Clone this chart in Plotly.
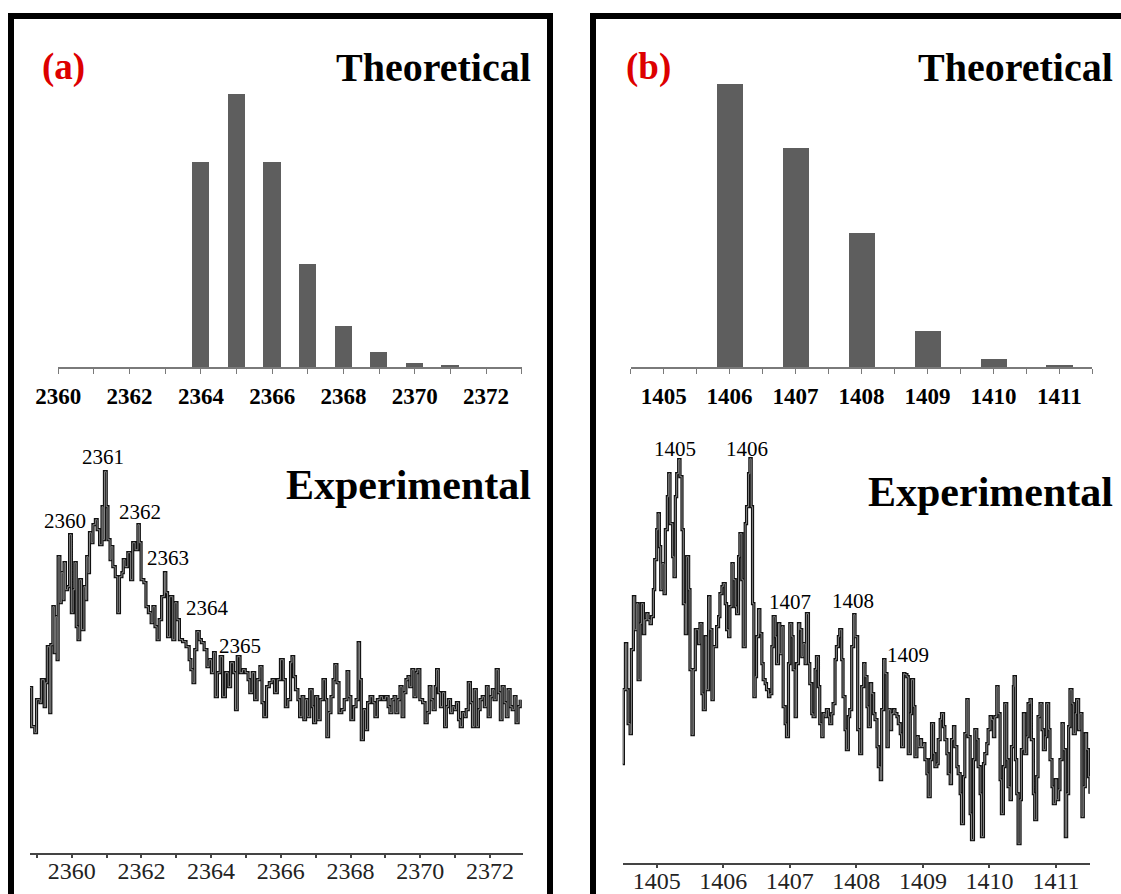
import plotly.graph_objects as go

# ---------------- data ----------------
# Theoretical isotope distributions (relative abundance, %)
theo_a_mz = [2364, 2365, 2366, 2367, 2368, 2369, 2370, 2371]
theo_a_int = [75.1, 100, 75.1, 37.6, 15.0, 5.5, 1.6, 0.6]

theo_b_mz = [1406, 1407, 1408, 1409, 1410, 1411]
theo_b_int = [100, 77.4, 47.5, 12.7, 2.9, 0.7]

# Experimental spectrum (a), m/z and intensity (a.u.)
exp_a_mz = [
    2358.80, 2358.85, 2358.94, 2358.99, 2359.09, 2359.13, 2359.21, 2359.25, 2359.30, 2359.37,
    2359.40, 2359.46, 2359.50, 2359.54, 2359.58, 2359.61, 2359.66, 2359.70, 2359.75, 2359.78,
    2359.82, 2359.88, 2359.94, 2359.99, 2360.04, 2360.09, 2360.13, 2360.18, 2360.23, 2360.28,
    2360.35, 2360.40, 2360.43, 2360.47, 2360.51, 2360.56, 2360.61, 2360.68, 2360.73, 2360.80,
    2360.87, 2360.90, 2360.94, 2360.99, 2361.04, 2361.10, 2361.13, 2361.18, 2361.25, 2361.32,
    2361.37, 2361.44, 2361.48, 2361.53, 2361.61, 2361.69, 2361.75, 2361.82, 2361.90, 2361.94,
    2361.99, 2362.07, 2362.13, 2362.20, 2362.28, 2362.33, 2362.39, 2362.45, 2362.51, 2362.58,
    2362.66, 2362.70, 2362.75, 2362.81, 2362.90, 2362.96, 2363.02, 2363.09, 2363.18, 2363.28,
    2363.37, 2363.42, 2363.48, 2363.53, 2363.59, 2363.66, 2363.72, 2363.80, 2363.88, 2363.94,
    2364.01, 2364.07, 2364.12, 2364.18, 2364.26, 2364.33, 2364.41, 2364.49, 2364.56, 2364.64,
    2364.70, 2364.75, 2364.83, 2364.90, 2364.98, 2365.06, 2365.11, 2365.18, 2365.25, 2365.32,
    2365.40, 2365.46, 2365.51, 2365.59, 2365.67, 2365.75, 2365.82, 2365.90, 2365.99,
    2366.07, 2366.13, 2366.20, 2366.28, 2366.32, 2366.37, 2366.42, 2366.49, 2366.54, 2366.61,
    2366.66, 2366.71, 2366.77, 2366.83, 2366.90, 2366.94, 2367.00, 2367.06, 2367.13, 2367.21,
    2367.28, 2367.32, 2367.37, 2367.44, 2367.50, 2367.55, 2367.61, 2367.67, 2367.75, 2367.82,
    2367.90, 2367.95, 2368.01, 2368.09, 2368.16, 2368.22, 2368.26, 2368.31, 2368.37, 2368.43,
    2368.49, 2368.56, 2368.64, 2368.70, 2368.77, 2368.85, 2368.92, 2369.00, 2369.08, 2369.13,
    2369.19, 2369.25, 2369.30, 2369.36, 2369.42, 2369.48, 2369.53, 2369.59, 2369.65, 2369.70,
    2369.76, 2369.82, 2369.88, 2369.93, 2369.99, 2370.07, 2370.14, 2370.20, 2370.26, 2370.31,
    2370.37, 2370.43, 2370.47, 2370.52, 2370.58, 2370.64, 2370.70, 2370.75, 2370.81, 2370.87,
    2370.92, 2370.98, 2371.04, 2371.10, 2371.15, 2371.21, 2371.27, 2371.32, 2371.38, 2371.44,
    2371.50, 2371.55, 2371.61, 2371.67, 2371.72, 2371.78, 2371.84, 2371.90, 2371.95, 2372.01,
    2372.07, 2372.12, 2372.18, 2372.24, 2372.30, 2372.35, 2372.41, 2372.47, 2372.52, 2372.58,
    2372.64, 2372.70, 2372.75, 2372.81, 2372.87,
]
exp_a_int = [
    165, 126, 120, 153, 150, 173, 146, 170, 206, 140,
    208, 246, 200, 236, 193, 296, 250, 280, 253, 290,
    263, 266, 318, 240, 263, 290, 226, 213, 273, 223,
    266, 253, 296, 280, 320, 310, 328, 333, 323, 308,
    346, 313, 381, 346, 313, 293, 306, 286, 276, 240,
    276, 280, 293, 286, 300, 273, 310, 303, 328, 310,
    273, 270, 246, 240, 230, 246, 226, 213, 233, 256,
    280, 260, 216, 256, 213, 250, 233, 213, 211, 206,
    193, 183, 170, 203, 221, 213, 210, 203, 186, 193,
    180, 200, 156, 180, 196, 156, 180, 166, 190, 180,
    143, 196, 180, 183, 180, 173, 160, 180, 153, 173,
    186, 150, 136, 166, 170, 173, 160, 173, 193,
    173, 146, 153, 190, 196, 176, 163, 153, 136, 156,
    133, 153, 136, 163, 146, 130, 156, 133, 153, 173,
    153, 116, 140, 156, 173, 188, 170, 140, 143, 153,
    181, 156, 133, 146, 153, 210, 173, 113, 143, 123,
    150, 156, 150, 136, 153, 156, 153, 156, 146, 140,
    153, 156, 140, 153, 166, 136, 160, 173, 176, 166,
    183, 156, 180, 183, 153, 150, 130, 140, 166, 153,
    143, 166, 183, 160, 146, 160, 126, 146, 153, 140,
    146, 143, 150, 133, 126, 140, 136, 143, 170, 150,
    126, 163, 126, 143, 153, 156, 146, 166, 136, 156,
    163, 153, 183, 160, 133, 166, 150, 136, 163, 146,
    143, 156, 130, 146, 153,
]

# Experimental spectrum (b), m/z and intensity (a.u.)
exp_b_mz = [
    1404.48, 1404.50, 1404.53, 1404.55, 1404.57, 1404.60, 1404.62, 1404.65, 1404.67, 1404.70,
    1404.72, 1404.75, 1404.77, 1404.80, 1404.82, 1404.85, 1404.87, 1404.90, 1404.92, 1404.95,
    1404.97, 1405.00, 1405.02, 1405.04, 1405.06, 1405.08, 1405.11, 1405.13, 1405.16, 1405.18,
    1405.20, 1405.24, 1405.26, 1405.28, 1405.30, 1405.33, 1405.35, 1405.38, 1405.40, 1405.43,
    1405.45, 1405.48, 1405.50, 1405.53, 1405.55, 1405.58, 1405.60, 1405.63, 1405.65, 1405.68,
    1405.70, 1405.73, 1405.75, 1405.78, 1405.80, 1405.83, 1405.85, 1405.88, 1405.90, 1405.93,
    1405.95, 1405.98, 1406.00, 1406.03, 1406.05, 1406.08, 1406.10, 1406.13, 1406.15, 1406.18,
    1406.20, 1406.23, 1406.25, 1406.28, 1406.30, 1406.33, 1406.35, 1406.38, 1406.40, 1406.42,
    1406.44, 1406.46, 1406.48, 1406.50, 1406.53, 1406.55, 1406.58, 1406.60, 1406.63, 1406.65,
    1406.68, 1406.70, 1406.73, 1406.75, 1406.78, 1406.80, 1406.83, 1406.85, 1406.88, 1406.90,
    1406.93, 1406.95, 1406.98, 1407.00, 1407.03, 1407.05, 1407.08, 1407.10, 1407.13, 1407.15,
    1407.18, 1407.20, 1407.23, 1407.25, 1407.28, 1407.30, 1407.33, 1407.35, 1407.38, 1407.40,
    1407.43, 1407.45, 1407.48, 1407.50, 1407.53, 1407.55, 1407.58, 1407.60, 1407.63, 1407.65,
    1407.68, 1407.70, 1407.73, 1407.75, 1407.78, 1407.80, 1407.83, 1407.85, 1407.88, 1407.90,
    1407.93, 1407.96, 1407.98,
    1408.02, 1408.05, 1408.08, 1408.11, 1408.13, 1408.16, 1408.18, 1408.21, 1408.23, 1408.26,
    1408.28, 1408.31, 1408.33, 1408.36, 1408.38, 1408.41, 1408.43, 1408.46, 1408.48, 1408.51,
    1408.53, 1408.56, 1408.58, 1408.61, 1408.63, 1408.66, 1408.68, 1408.71, 1408.73, 1408.76,
    1408.78, 1408.81, 1408.83, 1408.86, 1408.88, 1408.91, 1408.93, 1408.96, 1408.98, 1409.01,
    1409.03, 1409.06, 1409.08, 1409.11, 1409.13, 1409.16, 1409.18, 1409.21, 1409.23, 1409.26,
    1409.28, 1409.31, 1409.33, 1409.36, 1409.38, 1409.41, 1409.43, 1409.46, 1409.48, 1409.51,
    1409.53, 1409.56, 1409.58, 1409.61, 1409.63, 1409.66, 1409.68, 1409.71, 1409.73, 1409.76,
    1409.78, 1409.81, 1409.83, 1409.86, 1409.88, 1409.91, 1409.93, 1409.96, 1409.98, 1410.01,
    1410.03, 1410.06, 1410.08, 1410.11, 1410.13, 1410.16, 1410.18, 1410.21, 1410.23, 1410.26,
    1410.28, 1410.31, 1410.33, 1410.36, 1410.37, 1410.39, 1410.41, 1410.43, 1410.46, 1410.48,
    1410.51, 1410.53, 1410.56, 1410.58, 1410.61, 1410.63, 1410.66, 1410.68, 1410.71, 1410.73,
    1410.76, 1410.79, 1410.81, 1410.84, 1410.86, 1410.89, 1410.91, 1410.94, 1410.96, 1410.99,
    1411.01, 1411.04, 1411.06, 1411.09, 1411.11, 1411.14, 1411.16, 1411.19, 1411.21, 1411.24,
    1411.26, 1411.29, 1411.31, 1411.34, 1411.36, 1411.39, 1411.41, 1411.44, 1411.46, 1411.49,
    1411.51,
]
exp_b_int = [
    99, 173, 219, 173, 139, 129, 213, 266, 233, 259,
    183, 239, 259, 229, 243, 249, 243, 239, 246, 273,
    303, 333, 349, 316, 273, 299, 269, 333, 366, 389,
    339, 306, 286, 366, 389, 403, 386, 333, 259, 229,
    306, 273, 193, 128, 193, 233, 233, 219, 239, 169,
    153, 226, 173, 266, 233, 163, 216, 216, 236, 246,
    269, 276, 279, 259, 233, 226, 256, 299, 283, 256,
    249, 306, 329, 283, 216, 339, 356, 389, 404, 356,
    259, 166, 186, 226, 253, 229, 199, 183, 179, 173,
    166, 169, 216, 246, 226, 199, 239, 209, 236, 156,
    139, 126, 199, 239, 226, 193, 146, 199, 239, 233,
    206, 219, 199, 249, 199, 179, 149, 146, 193, 206,
    176, 139, 126, 149, 146, 153, 146, 139, 149, 159,
    203, 216, 226, 233, 203, 166, 133, 113, 146, 153,
    216, 248, 226,
    133, 109, 176, 199, 186, 156, 136, 179, 169, 149,
    143, 116, 96, 83, 153, 203, 189, 116, 153, 133,
    149, 153, 149, 146, 139, 129, 116, 189, 188, 186,
    109, 149, 183, 156, 106, 126, 116, 123, 116, 119,
    103, 89, 66, 103, 139, 109, 96, 99, 123, 143,
    149, 136, 123, 109, 89, 79, 123, 136, 116, 96,
    89, 69, 39, 86, 129, 163, 126, 49, 23, 103,
    133, 123, 96, 69, 26, 99, 109, 119, 133, 146,
    143, 126, 146, 176, 149, 83, 49, 96, 159, 103,
    76, 63, 116, 176, 186, 103, 69, 19, 63, 113,
    149, 109, 126, 159, 163, 123, 69, 43, 86, 146,
    159, 133, 113, 126, 159, 133, 103, 76, 59, 83,
    63, 73, 103, 139, 113, 26, 69, 136, 173, 159,
    129, 149, 163, 133, 149, 46, 76, 129, 113, 86,
    69,
]

# Axis tick values / labels
theo_a_ticks = list(range(2360, 2374))
theo_a_labels = [str(v) if v % 2 == 0 else "" for v in theo_a_ticks]
theo_b_ticks = [1404.5 + 0.5 * i for i in range(15)]
theo_b_labels = [str(int(v)) if float(v).is_integer() else "" for v in theo_b_ticks]
exp_a_ticks = list(range(2359, 2373))
exp_a_labels = [str(v) if v % 2 == 0 else "" for v in exp_a_ticks]
exp_b_ticks = list(range(1405, 1412))
exp_b_labels = [str(v) for v in exp_b_ticks]

# Peak annotations (nominal masses)
peak_text_a = ["2360", "2361", "2362", "2363", "2364", "2365"]
peak_text_b = ["1405", "1406", "1407", "1408", "1409"]

# ---------------- styling / placement ----------------
W, H = 1121, 894
SERIF = "Liberation Serif"
BAR_COLOR = "#5e5e5e"
AXIS_GRAY = "#7a7a7a"
RED = "#dd0000"

peak_pos_a = [(2359.80, 332), (2360.89, 396), (2361.97, 341),
              (2362.75, 295), (2363.89, 245), (2364.83, 207)]
peak_pos_b = [(1405.27, 414), (1406.35, 414), (1407.00, 261),
              (1407.95, 262), (1408.78, 208)]


def px_x(p):
    return p / W


def px_y(p):
    return 1 - p / H


fig = go.Figure()

fig.add_trace(go.Bar(x=theo_a_mz, y=theo_a_int, width=0.485,
                     marker=dict(color=BAR_COLOR, line=dict(width=0)),
                     xaxis="x", yaxis="y", showlegend=False))
fig.add_trace(go.Bar(x=theo_b_mz, y=theo_b_int, width=0.4,
                     marker=dict(color=BAR_COLOR, line=dict(width=0)),
                     xaxis="x2", yaxis="y2", showlegend=False))

for xs, ys, xa, ya in [(exp_a_mz, exp_a_int, "x3", "y3"),
                       (exp_b_mz, exp_b_int, "x4", "y4")]:
    fig.add_trace(go.Scatter(x=xs, y=ys, mode="lines", line_shape="hv",
                             line=dict(color="#111111", width=3.2),
                             xaxis=xa, yaxis=ya, showlegend=False,
                             hoverinfo="skip"))
    fig.add_trace(go.Scatter(x=xs, y=ys, mode="lines", line_shape="hv",
                             line=dict(color="#858585", width=1),
                             xaxis=xa, yaxis=ya, showlegend=False))

top_dom = [px_y(367.3), px_y(67.3)]

theo_axis = dict(showline=True, linecolor=AXIS_GRAY, linewidth=1.5,
                 ticks="outside", ticklen=5, tickcolor=AXIS_GRAY, tickwidth=1.2,
                 tickmode="array", showgrid=False, zeroline=False, automargin=False,
                 tickfont=dict(family=SERIF, size=23, color="black", weight="bold"),
                 ticklabelstandoff=2, fixedrange=True)
theo_inner = dict(showline=False, ticks="inside", ticklen=5, tickcolor=AXIS_GRAY,
                  tickwidth=1.2, tickmode="array", showticklabels=False,
                  showgrid=False, zeroline=False, automargin=False, fixedrange=True)
exp_axis = dict(showline=True, linecolor="#444444", linewidth=2,
                ticks="outside", ticklen=3, tickcolor="#444444", tickwidth=1.5,
                tickmode="array", showgrid=False, zeroline=False, automargin=False,
                tickfont=dict(family=SERIF, size=24, color="#222222"),
                ticklabelstandoff=-8, fixedrange=True)
hidden_y = dict(visible=False, showgrid=False, zeroline=False, automargin=False,
                fixedrange=True)

fig.update_layout(
    width=W, height=H, autosize=False,
    margin=dict(l=0, r=0, t=0, b=0, pad=0),
    paper_bgcolor="white", plot_bgcolor="white",
    bargap=0,
    xaxis=dict(theo_axis, domain=[px_x(58.3), px_x(521.7)], range=[2360, 2373],
               tickvals=theo_a_ticks, ticktext=theo_a_labels, anchor="y"),
    yaxis=dict(hidden_y, domain=top_dom, range=[0, 109.9], anchor="x"),
    xaxis5=dict(theo_inner, overlaying="x", anchor="y", range=[2360, 2373],
                tickvals=theo_a_ticks),
    xaxis2=dict(theo_axis, domain=[px_x(630.7), px_x(1092.3)], range=[1404.5, 1411.5],
                tickvals=theo_b_ticks, ticktext=theo_b_labels, anchor="y2"),
    yaxis2=dict(hidden_y, domain=top_dom, range=[0, 106.0], anchor="x2"),
    xaxis6=dict(theo_inner, overlaying="x2", anchor="y2", range=[1404.5, 1411.5],
                tickvals=theo_b_ticks),
    xaxis3=dict(exp_axis, domain=[px_x(29.9), px_x(523)], range=[2358.8, 2372.95],
                tickvals=exp_a_ticks, ticktext=exp_a_labels, anchor="y3"),
    yaxis3=dict(hidden_y, domain=[px_y(852.7), px_y(452.7)], range=[0, 400], anchor="x3"),
    xaxis4=dict(exp_axis, domain=[px_x(622.7), px_x(1090)], range=[1404.489, 1411.511],
                tickvals=exp_b_ticks, ticktext=exp_b_labels, anchor="y4"),
    yaxis4=dict(hidden_y, domain=[px_y(862.7), px_y(422.7)], range=[0, 440], anchor="x4"),
)

# Panel frames
for x0, x1 in [(11, 550), (593, 1140)]:
    fig.add_shape(type="rect", xref="paper", yref="paper",
                  x0=px_x(x0), x1=px_x(x1), y0=-0.05, y1=px_y(16),
                  line=dict(color="black", width=6), fillcolor="rgba(0,0,0,0)",
                  layer="above")

theo_font = dict(family=SERIF, size=40, color="black", weight="bold")
exp_font = dict(family=SERIF, size=42, color="black", weight="bold")
panel_font = dict(family=SERIF, size=37, color=RED, weight="bold")
for txt, x in [("(a)", 63), ("(b)", 648)]:
    fig.add_annotation(text=txt, xref="paper", yref="paper", x=px_x(x), y=px_y(67),
                       xanchor="center", yanchor="middle", showarrow=False, font=panel_font)
for x in [533, 1115]:
    fig.add_annotation(text="Theoretical", xref="paper", yref="paper", x=px_x(x), y=px_y(67),
                       xanchor="right", yanchor="middle", showarrow=False, font=theo_font)
for x, y in [(533, 485), (1115, 492)]:
    fig.add_annotation(text="Experimental", xref="paper", yref="paper", x=px_x(x), y=px_y(y),
                       xanchor="right", yanchor="middle", showarrow=False, font=exp_font)

peak_font = dict(family=SERIF, size=21, color="black")
for txt, (x, y) in zip(peak_text_a, peak_pos_a):
    fig.add_annotation(text=txt, xref="x3", yref="y3", x=x, y=y, xanchor="center",
                       yanchor="middle", showarrow=False, font=peak_font)
for txt, (x, y) in zip(peak_text_b, peak_pos_b):
    fig.add_annotation(text=txt, xref="x4", yref="y4", x=x, y=y, xanchor="center",
                       yanchor="middle", showarrow=False, font=peak_font)

fig.write_html("out.html")
